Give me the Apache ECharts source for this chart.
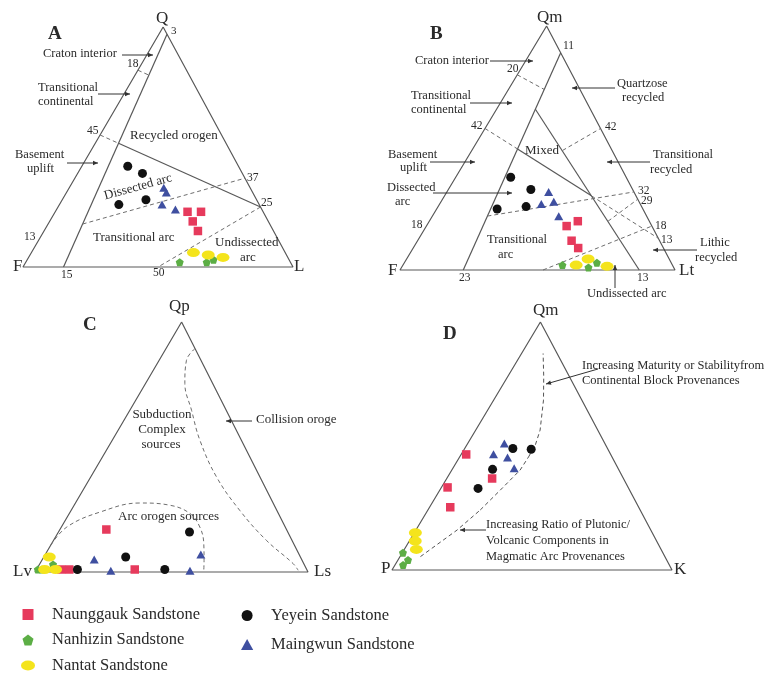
<!DOCTYPE html>
<html>
<head>
<meta charset="utf-8">
<script src="https://cdn.jsdelivr.net/npm/echarts@6/dist/echarts.min.js"></script>
<style>
html, body { margin: 0; padding: 0; background: #fff; }
#main { width: 784px; height: 674px; }
</style>
</head>
<body>
<div id="main"></div>
<script>
// compositions are [top, left, right] in percent

// A: Q - F - L
var qflNaunggauk = [[23, 28, 49], [23, 23, 54], [19, 28, 53], [15, 28, 57]];
var qflNanhizin = [[2, 41, 57], [2, 31, 67], [3, 28, 69]];
var qflNantat = [[6, 34, 60], [5, 29, 66], [4, 24, 72]];
var qflYeyein = [[42, 41, 17], [39, 37, 24], [26, 52, 22], [28, 41, 31]];
var qflMaingwun = [[33, 32, 35], [31, 32, 37], [26, 36, 38], [24, 32, 44]];

// B: Qm - F - Lt
var qmfltNaunggauk = [[18, 31, 51], [20, 26, 54], [12, 32, 56], [9, 31, 60]];
var qmfltNanhizin = [[2, 40, 58], [1, 31, 68], [3, 27, 70]];
var qmfltNantat = [[4.5, 29.5, 66], [2, 35, 63], [1.5, 24, 74.5]];
var qmfltYeyein = [[38, 42, 20], [33, 37, 30], [25, 53, 22], [26, 42, 32]];
var qmfltMaingwun = [[32, 31, 37], [27, 36, 37], [28, 31, 41], [22, 32, 46]];

// C: Qp - Lv - Ls
var qplvlsNaunggauk = [[17, 66, 17], [1, 90, 9], [1, 87, 12], [1, 63, 36]];
var qplvlsNanhizin = [[1, 98.5, 0.5], [1, 97, 2], [3, 92, 5]];
var qplvlsNantat = [[6, 92, 2], [1, 96, 3], [1, 92, 7]];
var qplvlsYeyein = [[16, 36, 48], [6, 64, 30], [1, 84, 15], [1, 52, 47]];
var qplvlsMaingwun = [[5, 76, 19], [7, 36, 57], [0.5, 72, 27.5], [0.5, 43, 56.5]];

// D: Qm - P - K
var qmpkNaunggauk = [[46.6, 51.6, 1.8], [33.3, 64.5, 2.2], [25.3, 67.3, 7.4], [36.9, 46.9, 16.2]];
var qmpkNanhizin = [[7, 92.8, 0.2], [4, 92.4, 3.6], [2, 95.1, 2.9]];
var qmpkNantat = [[15, 84.6, 0.4], [11.7, 86.2, 2.1], [8.3, 87.4, 4.3]];
var qmpkYeyein = [[49, 33.8, 17.2], [48.7, 27.4, 23.9], [40.6, 45, 14.4], [32.9, 53.8, 13.3]];
var qmpkMaingwun = [[51, 35.9, 13.1], [46.7, 41.8, 11.5], [45.4, 37.4, 17.2], [41, 37.1, 21.9]];

// field boundaries
var qflSolid = [
    [[97, 0, 3], [0, 85, 15]],
    [[51.55, 39.83, 8.62], [25, 0, 75]]
];
var qflDashed = [
    [[82, 18, 0], [80, 15, 5]],
    [[55, 45, 0], [51.55, 39.83, 8.62]],
    [[17.9, 69.3, 12.8], [37, 0, 63]],
    [[25, 0, 75], [0, 50, 50]]
];
var qmfltSolid = [
    [[89, 0, 11], [0, 77, 23]],
    [[66, 20, 14], [0, 13, 87]],
    [[49.6, 34.1, 16.3], [30.4, 16.2, 53.4]]
];
var qmfltDashed = [
    [[80, 20, 0], [74, 13, 13]],
    [[58, 42, 0], [49.6, 34.1, 16.3]],
    [[30.4, 16.2, 53.4], [13, 0, 87]],
    [[22.1, 57.9, 20], [32, 0, 68]],
    [[20, 15, 65], [29, 0, 71]],
    [[0, 48, 52], [18, 0, 82]],
    [[49, 18, 33], [58, 0, 42]]
];
var qplvlsArc = [[10.7, 89.3, 0], [18, 80, 2], [24, 65, 11], [27.6, 48.8, 23.6], [26.7, 38.2, 35.1],
    [23.4, 32.4, 44.2], [18, 31.3, 50.7], [11.4, 32.9, 55.7], [4.7, 35.9, 59.4], [0, 38.2, 61.8]];
var qplvlsCollision = [[89.4, 0, 10.6], [84.7, 5.3, 10], [75.4, 10.2, 14.4], [64.7, 12.7, 22.6], [52.7, 15.2, 32.1],
    [38, 15.9, 46.1], [24.7, 13.6, 61.7], [12.7, 9.4, 77.9], [3.4, 3.9, 92.7], [0.7, 3.3, 96]];
var qmpkTrend = [
    [[5.4, 87.3, 7.3], [16.1, 69.2, 14.7], [24.2, 57.1, 18.7]],
    [[24.2, 57.1, 18.7], [32.2, 46.2, 21.6], [40.3, 35.3, 24.4], [45.6, 29.8, 24.6]],
    [[45.6, 29.8, 24.6], [50.3, 25.2, 24.5], [56.4, 20.6, 23], [68.5, 13.7, 17.8], [77.9, 9.2, 12.9], [87.3, 5, 7.7]]
];
var triangle = [[100, 0, 0], [0, 100, 0], [0, 0, 100], [100, 0, 0]];

var chart = echarts.init(document.getElementById('main'));

// plot boxes [left, top, width, height], apex = horizontal position of the top corner
var panels = [
    {box: [23, 27, 270, 240], apex: 0.519},
    {box: [400, 26, 275, 244], apex: 0.533},
    {box: [35, 322, 273, 250], apex: 0.537},
    {box: [392, 322, 280, 248], apex: 0.53}
];

var kinds = [
    {name: 'Naunggauk Sandstone', symbol: 'path://M0,0 L10,0 L10,10 L0,10 Z', size: 8.5, color: '#e63a5c'},
    {name: 'Nanhizin Sandstone', symbol: 'path://M5,0 L10,3.8 L8.1,10 L1.9,10 L0,3.8 Z', size: 8, color: '#5cae45'},
    {name: 'Nantat Sandstone', symbol: 'path://M0,5 A7,5 0 1,1 14,5 A7,5 0 1,1 0,5 Z', size: [13, 9], color: '#f4e41c'},
    {name: 'Yeyein Sandstone', symbol: 'circle', size: 9, color: '#111111'},
    {name: 'Maingwun Sandstone', symbol: 'path://M5,0 L10,9 L0,9 Z', size: [9, 8], color: '#3f4fa0'}
];
var panelData = [
    [qflNaunggauk, qflNanhizin, qflNantat, qflYeyein, qflMaingwun],
    [qmfltNaunggauk, qmfltNanhizin, qmfltNantat, qmfltYeyein, qmfltMaingwun],
    [qplvlsNaunggauk, qplvlsNanhizin, qplvlsNantat, qplvlsYeyein, qplvlsMaingwun],
    [qmpkNaunggauk, qmpkNanhizin, qmpkNantat, qmpkYeyein, qmpkMaingwun]
];

function toXY(p, apex) {
    var s = p[0] + p[1] + p[2];
    var t = p[0] / s, c = p[2] / s;
    return [c + t * apex, t];
}

var series = [];
function boundary(i, pts, dashed, smooth) {
    series.push({
        type: 'line', xAxisIndex: i, yAxisIndex: i, silent: true, clip: false,
        data: pts.map(function (p) { return toXY(p, panels[i].apex); }),
        symbol: 'none', smooth: smooth || false,
        lineStyle: {color: dashed ? '#6e6e6e' : '#585858', width: dashed ? 1 : 1.2, type: dashed ? [4, 3] : 'solid'},
        z: 1
    });
}

panels.forEach(function (p, i) {
    boundary(i, triangle, false);
});
qflSolid.forEach(function (s) { boundary(0, s, false); });
qflDashed.forEach(function (s) { boundary(0, s, true); });
qmfltSolid.forEach(function (s) { boundary(1, s, false); });
qmfltDashed.forEach(function (s) { boundary(1, s, true); });
boundary(2, qplvlsArc, true, 0.4);
boundary(2, qplvlsCollision, true, 0.4);

qmpkTrend.forEach(function (seg) {
    series.push({
        type: 'lines', coordinateSystem: 'cartesian2d', xAxisIndex: 3, yAxisIndex: 3,
        polyline: true, silent: true,
        symbol: ['none', 'arrow'], symbolSize: 6,
        lineStyle: {color: '#555', width: 1, type: [4, 3], opacity: 1},
        data: [{coords: seg.map(function (p) { return toXY(p, panels[3].apex); })}]
    });
});

panelData.forEach(function (sets, i) {
    sets.forEach(function (d, k) {
        var kind = kinds[k];
        series.push({
            type: 'scatter', name: kind.name, xAxisIndex: i, yAxisIndex: i, clip: false,
            symbol: kind.symbol, symbolSize: kind.size,
            itemStyle: {color: kind.color, opacity: 1},
            data: d.map(function (p) { return toXY(p, panels[i].apex); }),
            z: 3
        });
    });
});

// annotations
var graphics = [];
function label(x, y, text, size, opts) {
    opts = opts || {};
    graphics.push({
        type: 'text', x: x, y: y, rotation: opts.rotation || 0, silent: true, z: 10,
        style: {
            text: text,
            font: (opts.bold ? 'bold ' : '') + (size || 12.5) + 'px "Liberation Serif"',
            fill: '#2a2a2a',
            textAlign: opts.align || 'left',
            textVerticalAlign: 'middle'
        }
    });
}
function arrow(x1, y1, x2, y2) {
    graphics.push({type: 'line', silent: true, z: 10, shape: {x1: x1, y1: y1, x2: x2, y2: y2}, style: {stroke: '#333', lineWidth: 1}});
    var a = Math.atan2(y2 - y1, x2 - x1), l = 5, w = 2.2;
    var p1 = [x2 - l * Math.cos(a) + w * Math.sin(a), y2 - l * Math.sin(a) - w * Math.cos(a)];
    var p2 = [x2 - l * Math.cos(a) - w * Math.sin(a), y2 - l * Math.sin(a) + w * Math.cos(a)];
    graphics.push({type: 'polygon', silent: true, z: 10, shape: {points: [[x2, y2], p1, p2]}, style: {fill: '#333'}});
}

// A
label(48, 34, 'A', 19, {bold: true});
label(156, 19, 'Q', 17);
label(171, 31, '3', 11);
label(43, 54, 'Craton interior');
arrow(122, 55, 153, 55);
label(127, 64, '18', 11.5);
label(38, 88, 'Transitional');
label(38, 102, 'continental');
arrow(98, 94, 130, 94);
label(130, 136, 'Recycled orogen', 13);
label(87, 131, '45', 11.5);
label(15, 155, 'Basement');
label(27, 169, 'uplift');
arrow(67, 163, 98, 163);
label(138, 187, 'Dissected arc', 13, {align: 'center', rotation: 0.27});
label(247, 178, '37', 11.5);
label(261, 203, '25', 11.5);
label(93, 238, 'Transitional arc', 13);
label(24, 237, '13', 11.5);
label(215, 243, 'Undissected', 13);
label(240, 258, 'arc', 13);
label(13, 267, 'F', 17);
label(294, 267, 'L', 17);
label(61, 275, '15', 11.5);
label(153, 273, '50', 11.5);

// B
label(430, 34, 'B', 19, {bold: true});
label(537, 18, 'Qm', 17);
label(563, 46, '11', 11.5);
label(415, 61, 'Craton interior');
arrow(490, 61, 533, 61);
label(507, 69, '20', 11.5);
label(617, 84, 'Quartzose');
label(622, 98, 'recycled');
arrow(615, 88, 572, 88);
label(411, 96, 'Transitional');
label(411, 110, 'continental');
arrow(470, 103, 512, 103);
label(471, 126, '42', 11.5);
label(605, 127, '42', 11.5);
label(525, 151, 'Mixed', 13);
label(388, 155, 'Basement');
label(400, 168, 'uplift');
arrow(430, 162, 475, 162);
label(653, 155, 'Transitional');
label(650, 170, 'recycled');
arrow(650, 162, 607, 162);
label(387, 188, 'Dissected');
label(395, 202, 'arc');
arrow(433, 193, 512, 193);
label(638, 191, '32', 11.5);
label(641, 201, '29', 11.5);
label(411, 225, '18', 11.5);
label(655, 226, '18', 11.5);
label(661, 240, '13', 11.5);
label(487, 240, 'Transitional');
label(498, 255, 'arc');
label(700, 243, 'Lithic');
label(695, 258, 'recycled');
arrow(697, 250, 653, 250);
label(388, 271, 'F', 17);
label(679, 271, 'Lt', 17);
label(459, 278, '23', 11.5);
label(637, 278, '13', 11.5);
label(587, 294, 'Undissected arc');
arrow(615, 288, 615, 265);

// C
label(83, 325, 'C', 19, {bold: true});
label(169, 307, 'Qp', 17);
label(162, 415, 'Subduction', 13, {align: 'center'});
label(162, 430, 'Complex', 13, {align: 'center'});
label(161, 445, 'sources', 13, {align: 'center'});
label(256, 420, 'Collision oroge', 13);
arrow(252, 421, 226, 421);
label(118, 517, 'Arc orogen sources', 13);
label(13, 572, 'Lv', 17);
label(314, 572, 'Ls', 17);

// D
label(443, 334, 'D', 19, {bold: true});
label(533, 311, 'Qm', 17);
label(582, 366, 'Increasing Maturity or Stabilityfrom');
label(582, 381, 'Continental Block Provenances');
arrow(598, 369, 546, 384);
label(486, 525, 'Increasing Ratio of Plutonic/');
label(486, 541, 'Volcanic Components in');
label(486, 557, 'Magmatic Arc Provenances');
arrow(486, 530, 460, 530);
label(381, 569, 'P', 17);
label(674, 570, 'K', 17);

var option = {
    backgroundColor: '#fff',
    animation: false,
    grid: panels.map(function (p) {
        return {left: p.box[0], top: p.box[1], width: p.box[2], height: p.box[3]};
    }),
    xAxis: panels.map(function (p, i) {
        return {type: 'value', gridIndex: i, min: 0, max: 1, show: false};
    }),
    yAxis: panels.map(function (p, i) {
        return {type: 'value', gridIndex: i, min: 0, max: 1, show: false};
    }),
    legend: [
        {
            left: 21, top: 606, width: 200, height: 100, orient: 'vertical', padding: 0,
            itemWidth: 14, itemHeight: 11, itemGap: 8.5, selectedMode: false,
            data: [kinds[0].name, kinds[1].name, kinds[2].name],
            textStyle: {fontFamily: 'Liberation Serif', fontSize: 16.5, color: '#2a2a2a', lineHeight: 16, padding: [0, 0, 0, 12]}
        },
        {
            left: 241, top: 607, width: 200, height: 100, orient: 'vertical', padding: 0,
            itemWidth: 14, itemHeight: 11, itemGap: 12, selectedMode: false,
            data: [kinds[3].name, kinds[4].name],
            textStyle: {fontFamily: 'Liberation Serif', fontSize: 16.5, color: '#2a2a2a', lineHeight: 16, padding: [0, 0, 0, 12]}
        }
    ],
    graphic: {elements: graphics},
    series: series
};
chart.setOption(option);
</script>
</body>
</html>
